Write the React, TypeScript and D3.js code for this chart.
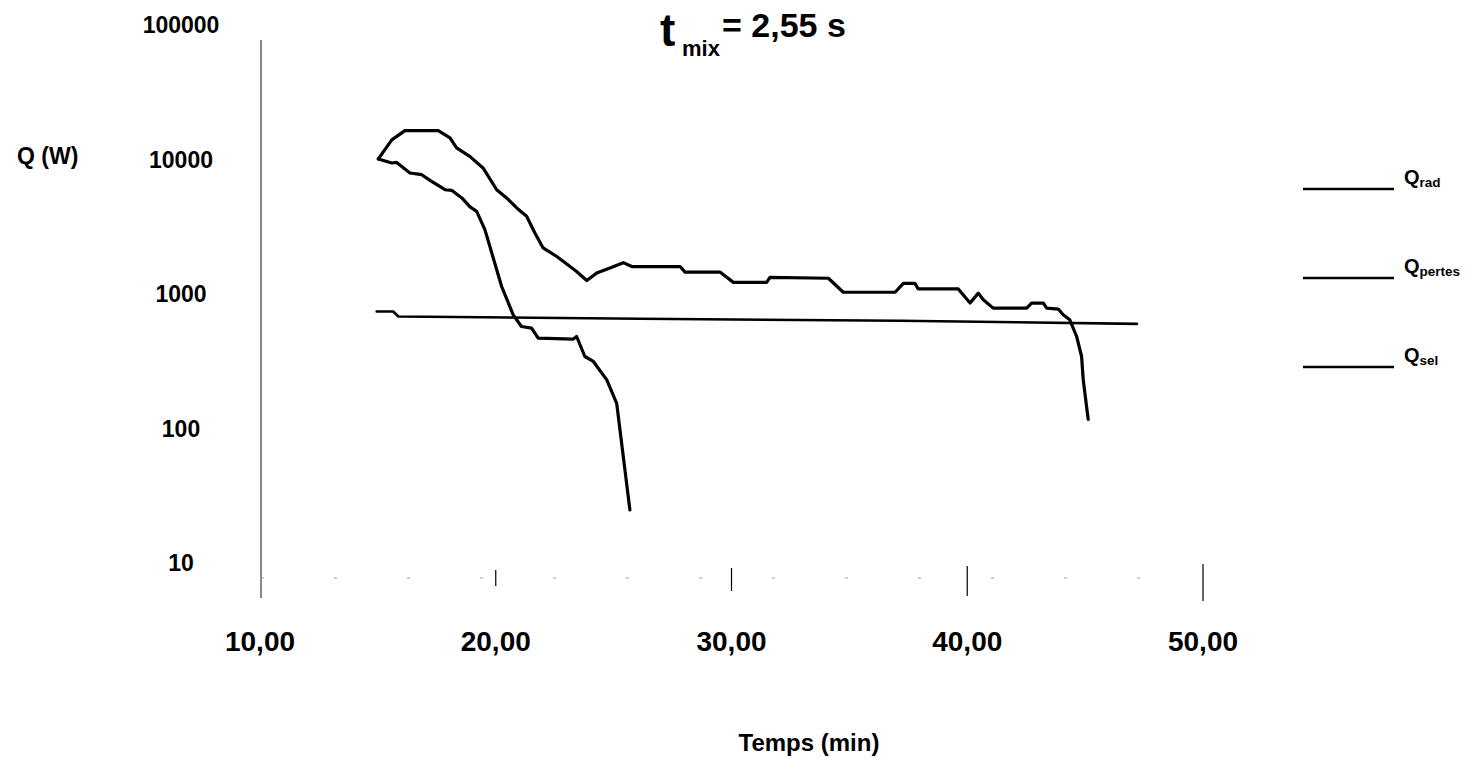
import React from 'react';
import * as d3 from 'd3';

// Q_rad: upper curve (min, W)
const radTime = [15.02, 15.59, 16.15, 17.56, 18.06, 18.34, 18.91, 19.46, 20.04, 20.46, 20.89, 21.31, 21.66, 22.01, 22.59, 23.43, 23.86, 24.28, 24.71, 25.41, 25.77, 27.82, 28.03, 29.51, 30.08, 31.49, 31.63, 34.11, 34.74, 36.94, 37.29, 37.78, 37.92, 39.62, 40.12, 40.47, 40.68, 41.1, 42.52, 42.73, 43.23, 43.37, 43.86, 44.07, 44.35, 44.64, 44.85, 44.92, 45.13];
const radValues = [10100, 14000, 16400, 16400, 14500, 12200, 10500, 8650, 5960, 5180, 4360, 3780, 2840, 2200, 1900, 1470, 1260, 1430, 1530, 1710, 1600, 1600, 1455, 1455, 1220, 1220, 1330, 1310, 1030, 1030, 1200, 1200, 1090, 1090, 856, 1015, 906, 785, 785, 856, 856, 785, 773, 700, 643, 483, 343, 230, 117];

// Q_pertes: almost flat line
const pertesTime = [14.95, 15.65, 15.87, 26.12, 37.15, 47.2];
const pertesValues = [741, 741, 681, 654, 632, 600];

// Q_sel: curve that drops around 20-26 min
const selTime = [15.02, 15.59, 15.8, 16.36, 16.86, 17.21, 17.85, 18.13, 18.56, 18.91, 19.19, 19.54, 20.25, 20.74, 21.09, 21.52, 21.8, 23.29, 23.43, 23.78, 24.14, 24.71, 25.13, 25.41, 25.69];
const selValues = [10100, 9420, 9510, 7940, 7710, 6990, 5960, 5900, 5180, 4440, 4110, 3010, 1137, 700, 573, 557, 470, 462, 483, 343, 315, 230, 154, 61.8, 24.8];

const xTicks = [10, 20, 30, 40, 50];
const yTicks = [10, 100, 1000, 10000, 100000];
const legendNames = ['rad', 'pertes', 'sel'];

const FONT = '"Liberation Sans", Arial, sans-serif';

export default function App() {
  const x = d3.scaleLinear().domain([10, 50]).range([260, 1203]);
  const y = d3.scaleLog().domain([10, 100000]).range([563, 25]);

  const line = d3.line<[number, number]>()
    .x(d => x(d[0]))
    .y(d => y(d[1]));

  const series = [
    { name: 'rad', pts: radTime.map((t, i) => [t, radValues[i]] as [number, number]), w: 3.2 },
    { name: 'pertes', pts: pertesTime.map((t, i) => [t, pertesValues[i]] as [number, number]), w: 2.6 },
    { name: 'sel', pts: selTime.map((t, i) => [t, selValues[i]] as [number, number]), w: 3.2 },
  ];

  const axisX = x(10) + 1;
  const baseY = y(10) + 15;

  return (
    <svg width={1472} height={767} style={{ position: 'absolute', left: 0, top: 0, background: '#fff' }}
      fontFamily={FONT} fontWeight="bold">
      {/* title */}
      <text x={660} y={46} fontSize={46}>t</text>
      <text x={682} y={56} fontSize={22}>mix</text>
      <text x={722} y={37} fontSize={34}>= 2,55 s</text>

      {/* y axis */}
      <line x1={axisX} x2={axisX} y1={y(100000) + 15} y2={baseY + 20} stroke="#111" strokeWidth={1} />
      {yTicks.map(v => (
        <text key={v} x={181} y={y(v) + 8} fontSize={23} textAnchor="middle">{v}</text>
      ))}
      <text x={17} y={164} fontSize={23}>Q (W)</text>

      {/* x axis (faint dotted baseline as in the scan) */}
      <line x1={axisX} x2={x(50)} y1={baseY} y2={baseY} stroke="#999" strokeWidth={1} strokeDasharray="3 70" />
      {xTicks.filter(t => t > 10).map((t, i) => (
        <line key={t} x1={x(t)} x2={x(t)} y1={baseY - 8 - i * 2} y2={baseY + 8 + i * 5} stroke="#000" strokeWidth={1.2} />
      ))}
      {xTicks.map(t => (
        <text key={t} x={x(t)} y={651} fontSize={28} textAnchor="middle">{d3.format('.2f')(t).replace('.', ',')}</text>
      ))}
      <text x={809} y={751} fontSize={24} textAnchor="middle">Temps (min)</text>

      {/* curves */}
      {series.map(s => (
        <path key={s.name} d={line(s.pts) || ''} fill="none" stroke="#000" strokeWidth={s.w}
          strokeLinejoin="round" strokeLinecap="round" />
      ))}

      {/* legend */}
      {legendNames.map((n, i) => (
        <g key={n} transform={`translate(1303, ${189 + i * 89})`}>
          <line x1={0} x2={91} y1={0} y2={0} stroke="#000" strokeWidth={2.6} />
          <text x={101} y={-5} fontSize={20}>
            Q<tspan fontSize={13.5} dy={3}>{n}</tspan>
          </text>
        </g>
      ))}
    </svg>
  );
}
